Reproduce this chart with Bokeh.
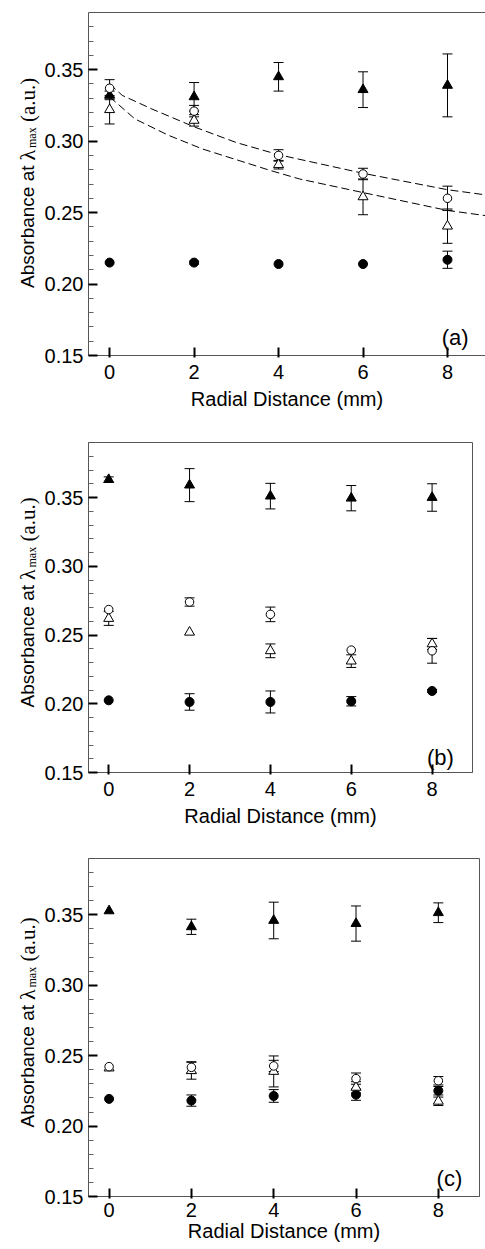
from math import pi
from bokeh.plotting import figure
from bokeh.models import (ColumnDataSource, Whisker, TeeHead, Label, LinearAxis,
                          FixedTicker, Range1d, PrintfTickFormatter)
from bokeh.layouts import column, row
from bokeh.embed import file_html
from bokeh.resources import INLINE

# ---------------- data ----------------
distance = [0, 2, 4, 6, 8]
x_ticks = [0, 2, 4, 6, 8]
y_ticks = [0.15, 0.20, 0.25, 0.30, 0.35]
y_minor = [0.16, 0.17, 0.18, 0.19, 0.21, 0.22, 0.23, 0.24, 0.26, 0.27, 0.28,
           0.29, 0.31, 0.32, 0.33, 0.34, 0.36, 0.37, 0.38]
x_title = "Radial Distance (mm)"
y_title_runs = ["Absorbance at", "\u03bb", "max", "(a.u.)"]
panel_tags = ["(a)", "(b)", "(c)"]

# panel (a)
a_tri_f = [0.332, 0.331, 0.345, 0.336, 0.339]
a_tri_f_err = [0.003, 0.010, 0.010, 0.0125, 0.022]
a_circ_o = [0.337, 0.321, 0.290, 0.277, 0.260]
a_circ_o_err = [0.006, 0.004, 0.004, 0.004, 0.0085]
a_tri_o = [0.322, 0.3145, 0.2835, 0.261, 0.2405]
a_tri_o_err = [0.010, 0.004, 0.003, 0.0125, 0.012]
a_circ_f = [0.215, 0.215, 0.214, 0.214, 0.217]
a_circ_f_err = [0.0, 0.001, 0.0, 0.0, 0.006]
a_fit_upper_x = [0, 0.3, 1, 2, 3, 4, 6, 8, 9]
a_fit_upper_y = [0.340, 0.332, 0.3225, 0.310, 0.299, 0.2905, 0.2775, 0.266, 0.262]
a_fit_lower_x = [0, 0.6, 1.4, 2.2, 3, 3.8, 4.5, 6, 8, 9]
a_fit_lower_y = [0.331, 0.3155, 0.304, 0.2945, 0.287, 0.2795, 0.2735, 0.264, 0.2515, 0.2475]

# panel (b)
b_tri_f = [0.363, 0.359, 0.351, 0.3495, 0.350]
b_tri_f_err = [0.002, 0.012, 0.0093, 0.0092, 0.010]
b_circ_o = [0.2685, 0.274, 0.265, 0.239, 0.2385]
b_circ_o_err = [0.0, 0.003, 0.0053, 0.0, 0.009]
b_tri_o = [0.262, 0.252, 0.2385, 0.231, 0.2435]
b_tri_o_err = [0.005, 0.0, 0.005, 0.0046, 0.004]
b_circ_f = [0.2025, 0.2013, 0.2013, 0.2018, 0.2093]
b_circ_f_err = [0.0, 0.006, 0.008, 0.0034, 0.001]

# panel (c)
c_tri_f = [0.3528, 0.3415, 0.346, 0.3438, 0.3515]
c_tri_f_err = [0.0, 0.0054, 0.013, 0.0125, 0.007]
c_circ_o = [0.2422, 0.2417, 0.2427, 0.2337, 0.2322]
c_circ_o_err = [0.0, 0.004, 0.004, 0.004, 0.003]
c_tri_o = [0.2412, 0.2393, 0.2388, 0.2275, 0.2176]
c_tri_o_err = [0.0, 0.006, 0.011, 0.004, 0.003]
c_circ_f = [0.2193, 0.2181, 0.2214, 0.2223, 0.2251]
c_circ_f_err = [0.0, 0.004, 0.0045, 0.004, 0.003]

# ---------------- styling ----------------
SANS = "Liberation Sans"
SERIF = "Liberation Serif"
AX_COL = "#555555"
Y0, Y1 = 0.15, 0.39
X0 = -0.5
LAB_W = 41
B_LEFT = 86 - LAB_W


def draw_series(p, y, err, marker, fill, size):
    wx = [x for x, e in zip(distance, err) if e > 0]
    wu = [v + e for v, e in zip(y, err) if e > 0]
    wl = [v - e for v, e in zip(y, err) if e > 0]
    wsrc = ColumnDataSource(dict(x=wx, upper=wu, lower=wl))
    p.add_layout(Whisker(source=wsrc, base="x", upper="upper", lower="lower",
                         line_color="black", line_width=1, level="underlay",
                         upper_head=TeeHead(size=10, line_color="black", line_width=1),
                         lower_head=TeeHead(size=10, line_color="black", line_width=1)))
    src = ColumnDataSource(dict(x=distance, y=y))
    p.scatter("x", "y", source=src, marker=marker, size=size,
              fill_color=fill, line_color="black", line_width=1)


def title_strip(fig_h, b_top, b_bottom, lab_shift):
    """Narrow figure holding the rotated y-axis title (mixed fonts + subscript).
    Its frame is aligned with the panel frame by the row layout, so its
    y range is expressed in pixels relative to the frame centre."""
    frame_h = fig_h - b_top - b_bottom
    t = figure(width=LAB_W, height=fig_h, x_range=Range1d(0, LAB_W),
               y_range=Range1d(-frame_h / 2, frame_h / 2), output_backend="svg",
               toolbar_location=None, x_axis_type=None, y_axis_type=None,
               min_border_left=0, min_border_right=0,
               min_border_top=b_top, min_border_bottom=b_bottom)
    t.outline_line_color = None
    t.background_fill_color = "white"
    t.border_fill_color = "white"
    specs = [(SANS, "19px", 27, lab_shift),
             (SERIF, "22px", 27, lab_shift - 127.5),
             (SERIF, "12px", 31, lab_shift - 140),
             (SERIF, "21px", 27, lab_shift - 166)]
    for txt, (font, fs, bx, off) in zip(y_title_runs, specs):
        t.add_layout(Label(x=bx, y=-off, text=txt,
                           text_font=font, text_font_size=fs, angle=pi / 2,
                           text_align="left", text_baseline="alphabetic",
                           text_color="black"))
    return t


def make_panel(series, tag, fig_w, fig_h, b_top, b_bottom, b_right,
               x_end, open_right, fits=None, tag_x=8.55, tag_y=0.161,
               lab_shift=104, lab_standoff=6, tick_standoff=7):
    p = figure(width=fig_w, height=fig_h, x_range=Range1d(X0, x_end),
               y_range=Range1d(Y0, Y1), output_backend="svg",
               toolbar_location=None, x_axis_type=None, y_axis_type=None,
               min_border_left=B_LEFT, min_border_top=b_top,
               min_border_bottom=b_bottom, min_border_right=b_right)
    p.background_fill_color = "white"
    p.border_fill_color = "white"
    if open_right:
        p.outline_line_color = None
        top = LinearAxis(ticker=FixedTicker(ticks=[], minor_ticks=[]),
                         major_label_text_font_size="0px",
                         axis_line_color=AX_COL, axis_line_width=1,
                         major_tick_in=0, major_tick_out=0,
                         minor_tick_in=0, minor_tick_out=0)
        p.add_layout(top, "above")
    else:
        p.outline_line_color = AX_COL
        p.outline_line_width = 1

    left = LinearAxis(ticker=FixedTicker(ticks=y_ticks, minor_ticks=y_minor),
                      formatter=PrintfTickFormatter(format="%.2f"))
    left.axis_line_color = AX_COL
    left.major_tick_in = 9
    left.major_tick_out = 0
    left.major_tick_line_width = 2
    left.major_tick_line_color = "black"
    left.minor_tick_in = 5
    left.minor_tick_out = 0
    left.minor_tick_line_color = "#666666"
    left.major_label_text_font = SANS
    left.major_label_text_font_size = "20px"
    left.major_label_text_color = "black"
    left.major_label_standoff = 5
    p.add_layout(left, "left")

    bottom = LinearAxis(ticker=FixedTicker(ticks=x_ticks, minor_ticks=[]))
    bottom.axis_line_color = AX_COL
    bottom.major_tick_in = 8
    bottom.major_tick_out = 2
    bottom.major_tick_line_width = 2
    bottom.major_tick_line_color = "black"
    bottom.minor_tick_in = 0
    bottom.minor_tick_out = 0
    bottom.major_label_text_font = SANS
    bottom.major_label_text_font_size = "20px"
    bottom.major_label_text_color = "black"
    bottom.major_label_standoff = tick_standoff
    bottom.axis_label = x_title
    bottom.axis_label_text_font = SANS
    bottom.axis_label_text_font_size = "20px"
    bottom.axis_label_text_font_style = "normal"
    bottom.axis_label_text_color = "black"
    bottom.axis_label_standoff = lab_standoff
    p.add_layout(bottom, "below")

    if fits:
        for fx, fy in fits:
            p.line(fx, fy, line_color="black", line_width=1, line_dash="8 4")

    (tf, tfe), (co, coe), (to, toe), (cf, cfe) = series
    draw_series(p, cf, cfe, "circle", "black", 9)
    draw_series(p, to, toe, "triangle", "white", 10)
    draw_series(p, tf, tfe, "triangle", "black", 10)
    draw_series(p, co, coe, "circle", "white", 8.5)

    p.add_layout(Label(x=tag_x, y=tag_y, text=tag, text_font=SANS,
                       text_font_size="22px", text_align="right",
                       text_baseline="alphabetic", text_color="black"))

    strip = title_strip(fig_h, b_top, b_bottom, lab_shift)
    return row(strip, p, spacing=0)


ra = make_panel([(a_tri_f, a_tri_f_err), (a_circ_o, a_circ_o_err),
                 (a_tri_o, a_tri_o_err), (a_circ_f, a_circ_f_err)],
                panel_tags[0], 485 - LAB_W, 428, 12, 73, 0, 8.9, True,
                fits=[(a_fit_upper_x, a_fit_upper_y), (a_fit_lower_x, a_fit_lower_y)],
                tag_x=8.5, tag_y=0.1625, lab_shift=104)
rb = make_panel([(b_tri_f, b_tri_f_err), (b_circ_o, b_circ_o_err),
                 (b_tri_o, b_tri_o_err), (b_circ_f, b_circ_f_err)],
                panel_tags[1], 477 - LAB_W, 415, 14, 71, 5, 9.0, False,
                tag_x=8.54, tag_y=0.1606, lab_shift=100)
rc = make_panel([(c_tri_f, c_tri_f_err), (c_circ_o, c_circ_o_err),
                 (c_tri_o, c_tri_o_err), (c_circ_f, c_circ_f_err)],
                panel_tags[2], 485 - LAB_W, 406, 15, 53, 6, 9.0, False,
                tag_x=8.58, tag_y=0.1625, lab_shift=100,
                lab_standoff=0, tick_standoff=4)

layout = column(ra, rb, rc, spacing=0)
open("out.html", "w").write(file_html(layout, INLINE))
